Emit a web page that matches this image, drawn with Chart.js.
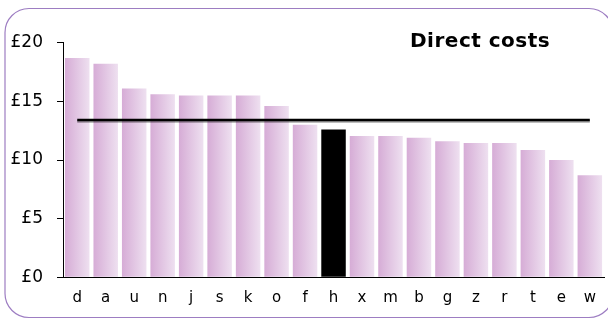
<!DOCTYPE html>
<html>
<head>
<meta charset="utf-8">
<script src="https://cdn.jsdelivr.net/npm/chart.js@4/dist/chart.umd.min.js"></script>
<style>
  html, body { margin: 0; padding: 0; background: #fff; }
  #wrap { width: 608px; height: 320px; position: relative; }
</style>
</head>
<body>
<div id="wrap"><canvas id="chart" width="608" height="320"></canvas></div>
<script>
// Direct cost per unit, by site
const categories = ['d', 'a', 'u', 'n', 'j', 's', 'k', 'o', 'f', 'h', 'x', 'm', 'b', 'g', 'z', 'r', 't', 'e', 'w'];
const directCosts = [18.7, 18.2, 16.1, 15.6, 15.5, 15.5, 15.5, 14.6, 13.0, 12.6, 12.05, 12.05, 11.9, 11.6, 11.45, 11.45, 10.85, 10.0, 8.7];
const averageCost = 13.4;
const highlighted = 'h';
const yTicks = [0, 5, 10, 15, 20];

const FONT = "'DejaVu Sans', Verdana, sans-serif";
const BAR_FRACTION = 0.86;

// Horizontal fade across each bar
function barFill(ctx) {
  const chart = ctx.chart;
  const i = ctx.dataIndex;
  if (categories[i] === highlighted) return '#000000';
  const xs = chart.scales && chart.scales.x;
  if (!xs || i === undefined) return '#dfc0e0';
  const c = xs.getPixelForValue(i);
  const w = (xs.width / categories.length) * BAR_FRACTION;
  if (!Number.isFinite(c) || !Number.isFinite(w) || w <= 0) return '#dfc0e0';
  const g = chart.ctx.createLinearGradient(c - w / 2, 0, c + w / 2, 0);
  g.addColorStop(0, '#d6acd6');
  g.addColorStop(1, '#eee0f0');
  return g;
}

// Rounded frame and white background
const framePlugin = {
  id: 'frame',
  beforeDraw(chart) {
    const ctx = chart.ctx;
    ctx.save();
    ctx.fillStyle = '#ffffff';
    ctx.fillRect(0, 0, chart.width, chart.height);
    ctx.beginPath();
    ctx.roundRect(5, 8.5, 608, 309, 24);
    ctx.strokeStyle = '#9d7dc2';
    ctx.lineWidth = 1.2;
    ctx.stroke();
    ctx.restore();
  }
};

// Soft drop shadow under the average line
const lineShadowPlugin = {
  id: 'lineShadow',
  beforeDatasetDraw(chart, args) {
    if (args.index !== 0) return;
    const ctx = chart.ctx;
    ctx.save();
    ctx.shadowColor = 'rgba(0,0,0,0.35)';
    ctx.shadowOffsetX = 0;
    ctx.shadowOffsetY = 1.5;
    ctx.shadowBlur = 0;
  },
  afterDatasetDraw(chart, args) {
    if (args.index !== 0) return;
    chart.ctx.restore();
  }
};

// Heading inside the plot
const headingPlugin = {
  id: 'heading',
  afterDraw(chart) {
    const ctx = chart.ctx;
    ctx.save();
    ctx.font = "bold 20px " + FONT;
    ctx.letterSpacing = '0.5px';
    ctx.fillStyle = '#000000';
    ctx.textAlign = 'left';
    ctx.textBaseline = 'alphabetic';
    ctx.fillText('Direct costs', 410, 47);
    ctx.restore();
  }
};

new Chart(document.getElementById('chart'), {
  data: {
    labels: categories,
    datasets: [
      {
        type: 'line',
        label: 'Average',
        data: categories.map(() => averageCost),
        borderColor: '#000000',
        borderWidth: 2.5,
        pointRadius: 0,
        fill: false,
        order: 0
      },
      {
        type: 'bar',
        label: 'Direct costs',
        data: directCosts,
        backgroundColor: barFill,
        borderWidth: 0,
        categoryPercentage: 1,
        barPercentage: BAR_FRACTION,
        order: 1
      }
    ]
  },
  options: {
    responsive: false,
    animation: false,
    events: [],
    layout: { padding: { top: 42.7, right: 1.6, bottom: 0, left: 0 } },
    plugins: {
      legend: { display: false },
      title: { display: false },
      tooltip: { enabled: false }
    },
    scales: {
      x: {
        grid: { display: false, drawTicks: false },
        border: { display: true, color: '#000000', width: 1 },
        ticks: { color: '#000000', font: { family: FONT, size: 15 }, padding: 12, maxRotation: 0, autoSkip: false },
        afterFit(scale) { scale.height = 42.7; }
      },
      y: {
        min: 0,
        max: 20,
        afterBuildTicks(scale) { scale.ticks = yTicks.map(v => ({ value: v })); },
        grid: { display: true, drawOnChartArea: false, drawTicks: true, tickLength: 6, color: '#000000' },
        border: { display: true, color: '#000000', width: 1 },
        ticks: {
          color: '#000000',
          font: { family: FONT, size: 17 },
          padding: 14,
          callback: v => '£' + v
        },
        afterFit(scale) { scale.width = 63; }
      }
    }
  },
  plugins: [framePlugin, lineShadowPlugin, headingPlugin]
});
</script>
</body>
</html>
